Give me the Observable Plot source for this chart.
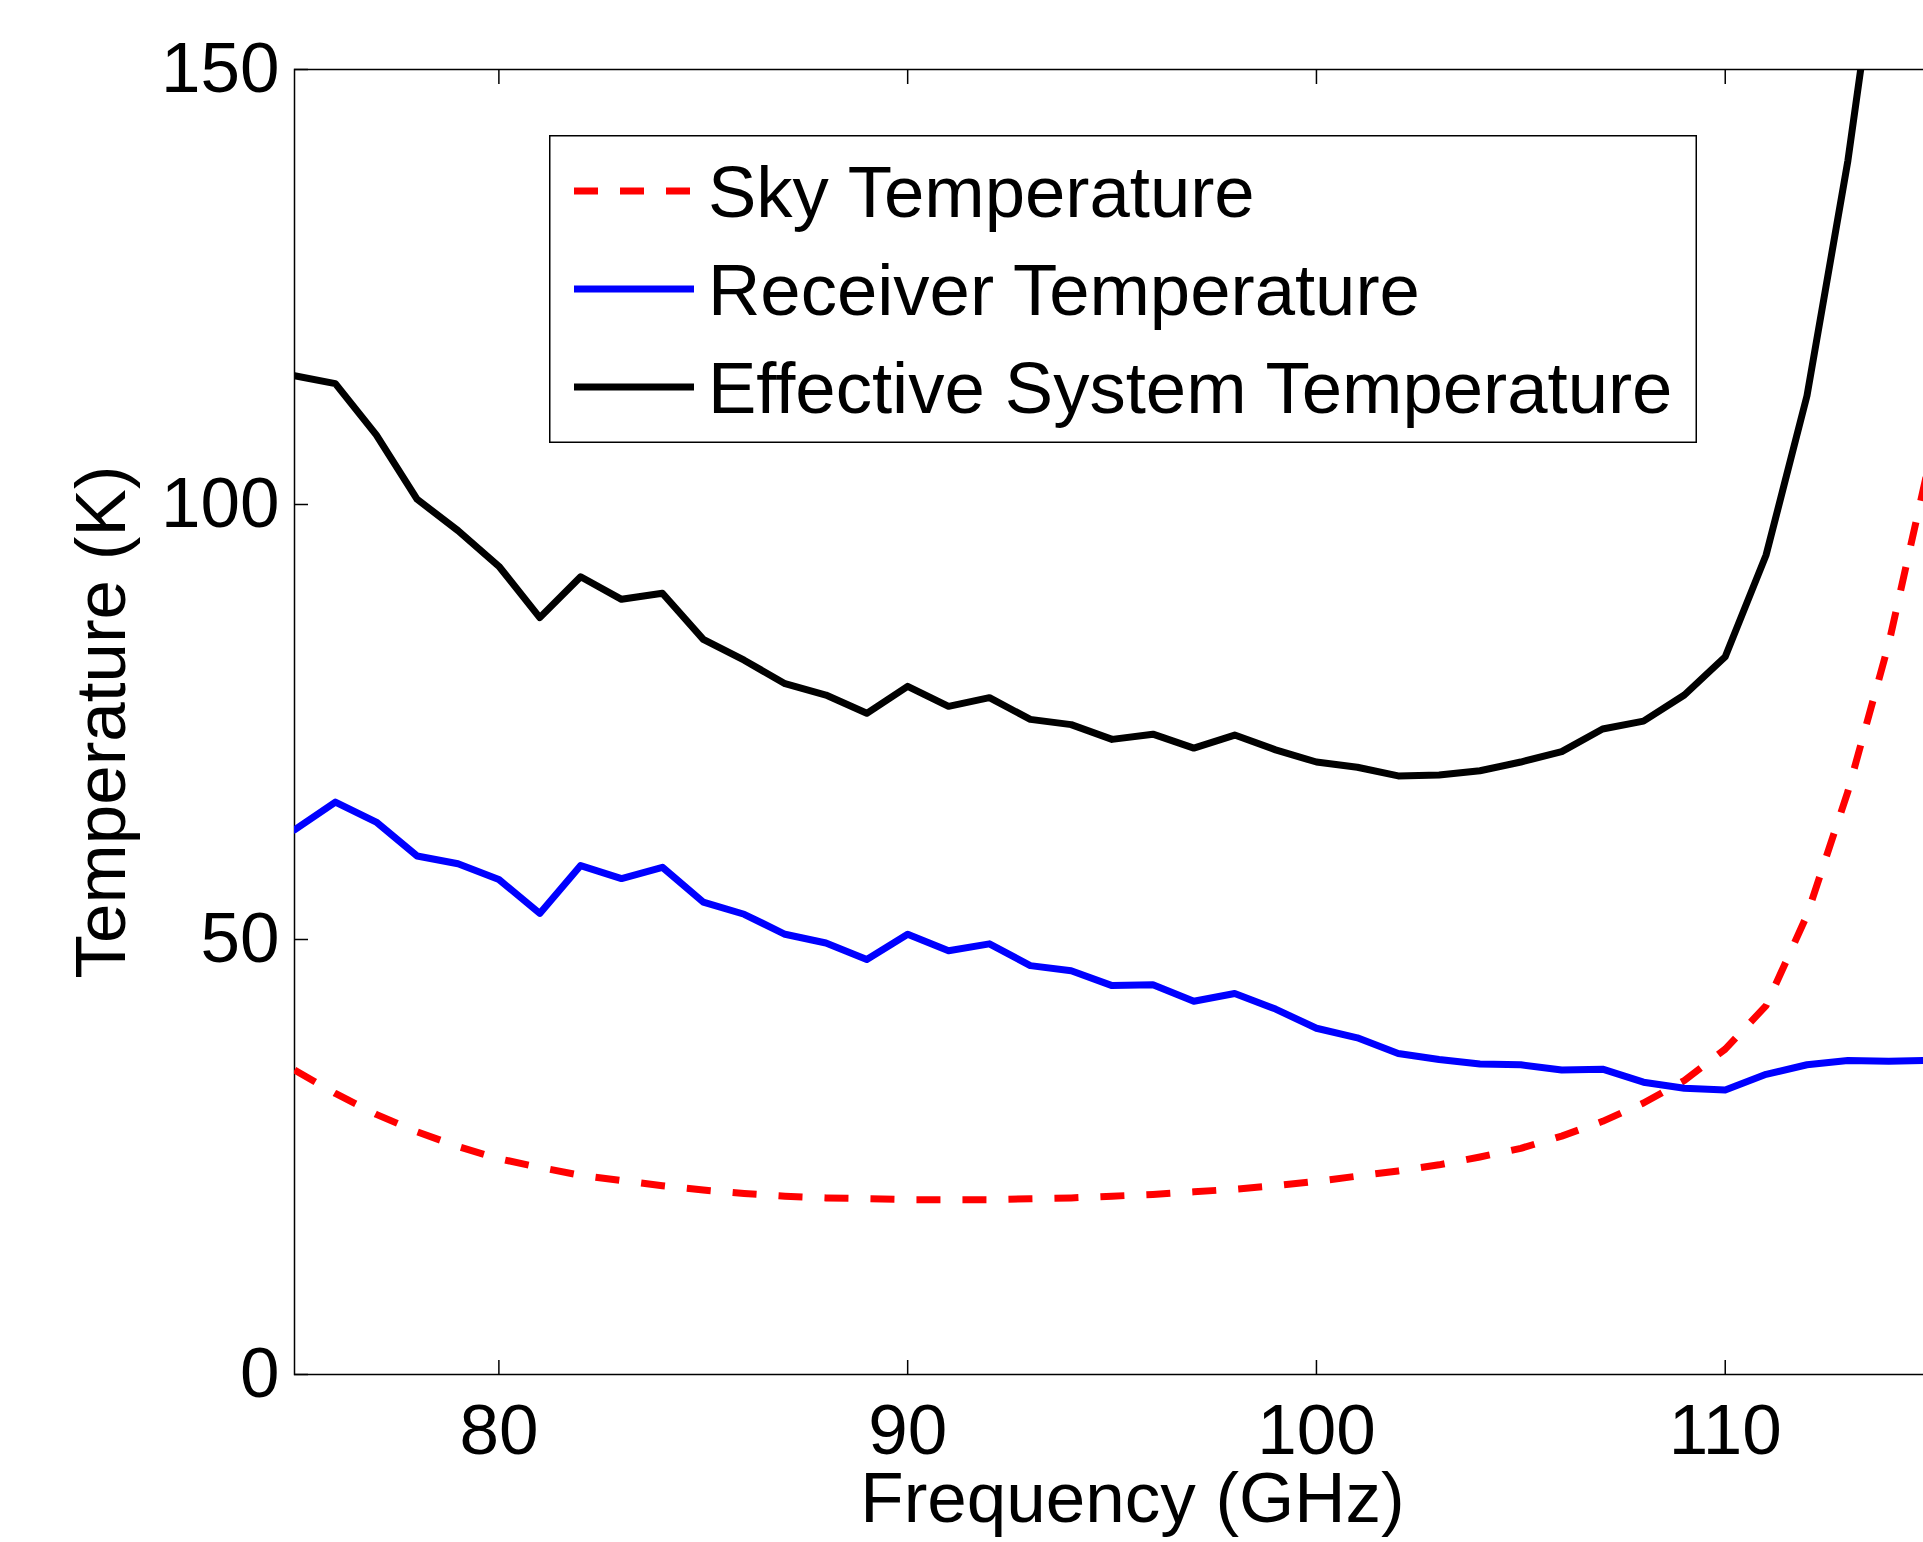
<!DOCTYPE html>
<html><head><meta charset="utf-8">
<script src="https://cdn.jsdelivr.net/npm/d3@7"></script>
<script src="https://cdn.jsdelivr.net/npm/@observablehq/plot@0.6"></script>
<style>
html,body{margin:0;padding:0;background:#fff;overflow:hidden}
#wrap{position:relative;width:1923px;height:1542px;overflow:hidden;background:#fff}
#chart svg{max-width:none !important}
#legend{position:absolute;left:549px;top:135px}
</style></head><body>
<div id="wrap"><div id="chart"></div><div id="legend"></div></div>
<script>
const frequency = [75,76,77,78,79,80,81,82,83,84,85,86,87,88,89,90,91,92,93,94,95,96,97,98,99,100,101,102,103,104,105,106,107,108,109,110,111,112,113,114,115];
const skyTemperature = [35.0,32.3,29.9,27.9,26.2,24.8,23.8,22.9,22.3,21.7,21.2,20.8,20.5,20.3,20.2,20.1,20.1,20.1,20.2,20.3,20.5,20.7,21.0,21.3,21.7,22.2,22.8,23.4,24.1,25.0,26.0,27.4,29.1,31.2,33.8,37.4,42.4,52.8,67.0,84.0,105.0];
const receiverTemperature = [62.6,65.8,63.5,59.6,58.7,56.9,53.0,58.5,57.0,58.3,54.3,52.9,50.6,49.6,47.7,50.6,48.7,49.5,47.0,46.4,44.7,44.8,42.9,43.8,42.0,39.8,38.7,36.9,36.2,35.7,35.6,35.0,35.1,33.6,32.9,32.7,34.5,35.6,36.1,36.0,36.1];
const effectiveTemperature = [114.8,113.9,108.0,100.6,97.0,92.9,87.0,91.7,89.1,89.8,84.5,82.1,79.4,78.1,76.0,79.1,76.8,77.8,75.3,74.7,73.0,73.6,72.0,73.5,71.8,70.4,69.8,68.8,68.9,69.4,70.4,71.6,74.2,75.1,78.1,82.5,94.2,112.5,139.5,173.0,215.0];
const xTicks = [80,90,100,110];
const yTicks = [0,50,100,150];
const xDomain = [75,116];
const yDomain = [0,150];
const seriesNames = ["Sky Temperature","Receiver Temperature","Effective System Temperature"];
const seriesColors = ["#ff0000","#0000ff","#000000"];
const xLabel = "Frequency (GHz)";
const yLabel = "Temperature (K)";

const rows = frequency.map((f,i)=>({f, sky: skyTemperature[i], rec: receiverTemperature[i], eff: effectiveTemperature[i]}));
const FONT = "'Liberation Sans', Arial, Helvetica, sans-serif";
const FS = 71;
const LFS = 72.5;
const LW = 7;
const DASH = "24,22";
const blank = () => "";

const chart = Plot.plot({
  width: 1970, height: 1542,
  marginLeft: 294, marginRight: 0, marginTop: 69, marginBottom: 168,
  style: {fontFamily: FONT, fontSize: FS + "px", background: "#fff", color: "#000", overflow: "visible", maxWidth: "none"},
  x: {domain: xDomain},
  y: {domain: yDomain},
  marks: [
    Plot.frame({stroke: "#000", strokeWidth: 1.5}),
    Plot.line(rows, {x: "f", y: "sky", stroke: seriesColors[0], strokeWidth: LW, strokeDasharray: DASH, strokeLinecap: "butt", clip: true}),
    Plot.line(rows, {x: "f", y: "rec", stroke: seriesColors[1], strokeWidth: LW, clip: true}),
    Plot.line(rows, {x: "f", y: "eff", stroke: seriesColors[2], strokeWidth: LW, clip: true}),
    Plot.axisY({ticks: yTicks, tickSize: 0, tickPadding: 15, fontSize: FS, label: null}),
    Plot.axisY({ticks: yTicks, tickSize: -14, tickFormat: blank, label: null, strokeWidth: 1.5}),
    Plot.axisX({ticks: xTicks, tickSize: 0, tickPadding: 29.5, fontSize: FS, label: null}),
    Plot.axisX({ticks: xTicks, tickSize: -14, tickFormat: blank, label: null, strokeWidth: 1.5}),
    Plot.axisX({anchor: "top", ticks: xTicks, tickSize: -14, tickFormat: blank, label: null, strokeWidth: 1.5}),
    Plot.text([xLabel], {frameAnchor: "bottom", textAnchor: "middle", dy: 125, fontSize: FS, lineAnchor: "middle"}),
    Plot.text([yLabel], {frameAnchor: "left", textAnchor: "middle", dx: -192.5, rotate: -90, fontSize: FS, lineAnchor: "middle"})
  ]
});
document.getElementById("chart").appendChild(chart);

// Legend (inside the axes, as in the original)
const W = 1148, H = 308, rowY = [56, 154, 252];
const ns = "http://www.w3.org/2000/svg";
const lg = document.createElementNS(ns, "svg");
lg.setAttribute("width", W); lg.setAttribute("height", H);
lg.style.fontFamily = FONT;
let html = `<rect x="0.75" y="0.75" width="${W-1.5}" height="${H-1.5}" fill="#fff" stroke="#000" stroke-width="1.5"/>`;
seriesNames.forEach((name, i) => {
  const y = rowY[i];
  const dash = i === 0 ? `stroke-dasharray="${DASH}"` : "";
  html += `<line x1="25" x2="145" y1="${y}" y2="${y}" stroke="${seriesColors[i]}" stroke-width="${LW}" ${dash}/>`;
  html += `<text x="159" y="${y + 26}" font-size="${LFS}" fill="#000">${name}</text>`;
});
lg.innerHTML = html;
document.getElementById("legend").appendChild(lg);
</script>
</body></html>
